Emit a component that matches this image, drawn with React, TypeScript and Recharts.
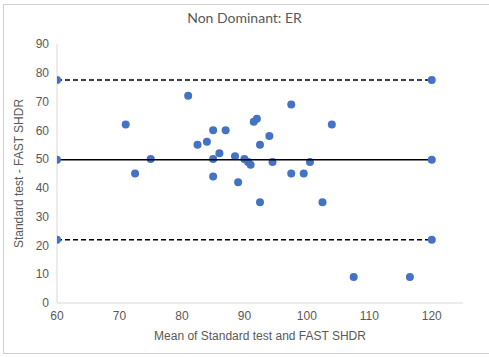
import React from "react"
import {
  ScatterChart,
  Scatter,
  XAxis,
  YAxis,
  Label,
} from "recharts"

const meanValues = [71, 72.5, 75, 81, 82.5, 84, 85, 85, 85, 86, 87, 88.5, 89, 90, 90.6, 91, 91.5, 92, 92.5, 92.5, 94, 94.5, 97.5, 97.5, 99.5, 100.5, 102.5, 104, 107.5, 116.5]
const diffValues = [62, 45, 50, 72, 55, 56, 60, 50, 44, 52, 60, 51, 42, 50, 49, 48, 63, 64, 55, 35, 58, 49, 69, 45, 45, 49, 35, 62, 9, 9]

const lineX = [60, 120]
const meanDiff = 49.75
const upperLoA = 77.5
const lowerLoA = 22

const xTicks = [60, 70, 80, 90, 100, 110, 120]
const yTicks = [0, 10, 20, 30, 40, 50, 60, 70, 80, 90]

const BLUE = "#4472C4"
const GREY = "#595959"
const FONT = "'Liberation Sans', Arial, sans-serif"

const points = meanValues.map((x, i) => ({ x, y: diffValues[i] }))
const meanLine = lineX.map((x) => ({ x, y: meanDiff }))
const upperLine = lineX.map((x) => ({ x, y: upperLoA }))
const lowerLine = lineX.map((x) => ({ x, y: lowerLoA }))

const dot = (props: any) => <circle cx={props.cx} cy={props.cy} r={4} fill={BLUE} />

export default function App() {
  return (
    <div
      style={{
        position: "fixed",
        left: 0,
        top: 0,
        width: 489,
        height: 357,
        overflow: "hidden",
        background: "#fff",
        fontFamily: FONT,
      }}
    >
      {/* chart area border, right edge runs off the picture */}
      <div
        style={{
          position: "absolute",
          left: 3,
          top: 4,
          width: 500,
          height: 348,
          border: "1px solid #d0d0d0",
        }}
      />
      <div
        style={{
          position: "absolute",
          top: 9,
          left: 0,
          width: 489,
          textAlign: "center",
          fontSize: 14,
          lineHeight: "17px",
          color: GREY,
          fontFamily: "Lato, 'Open Sans', sans-serif",
        }}
      >
        Non Dominant: ER
      </div>
      <ScatterChart
        width={489}
        height={357}
        margin={{ top: 44, right: 26, bottom: 24, left: 27 }}
        style={{ position: "absolute", left: 0, top: 0 }}
      >
        <XAxis
          type="number"
          dataKey="x"
          domain={[60, 125]}
          ticks={xTicks}
          tickLine={false}
          axisLine={{ stroke: "#d9d9d9" }}
          tick={{ fill: GREY, fontSize: 12, fontFamily: FONT }}
          height={30}
          allowDataOverflow
        >
          <Label
            value="Mean of Standard test and FAST SHDR"
            position="insideBottom"
            offset={-7}
            style={{ fill: GREY, fontSize: 12, fontFamily: FONT }}
          />
        </XAxis>
        <YAxis
          type="number"
          dataKey="y"
          domain={[0, 90]}
          ticks={yTicks}
          tickLine={false}
          axisLine={{ stroke: "#d9d9d9" }}
          tick={{ fill: GREY, fontSize: 12, fontFamily: FONT }}
          width={30}
          allowDataOverflow
        >
          <Label
            value="Standard test - FAST SHDR"
            angle={-90}
            position="insideLeft"
            offset={-8}
            style={{ fill: GREY, fontSize: 12, fontFamily: FONT, textAnchor: "middle" }}
          />
        </YAxis>
        <Scatter data={points} shape={dot} isAnimationActive={false} />
        <Scatter
          data={upperLine}
          shape={dot}
          line={{ stroke: "#000", strokeWidth: 1.5, strokeDasharray: "5 3" }}
          isAnimationActive={false}
        />
        <Scatter
          data={meanLine}
          shape={dot}
          line={{ stroke: "#000", strokeWidth: 1.5 }}
          isAnimationActive={false}
        />
        <Scatter
          data={lowerLine}
          shape={dot}
          line={{ stroke: "#000", strokeWidth: 1.5, strokeDasharray: "5 3" }}
          isAnimationActive={false}
        />
      </ScatterChart>
    </div>
  )
}
